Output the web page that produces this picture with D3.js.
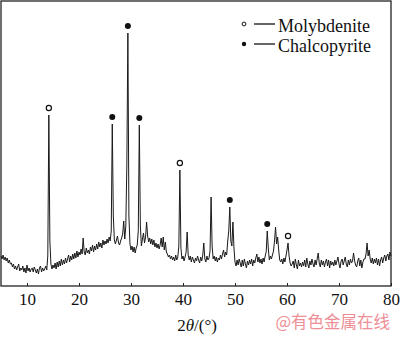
<!DOCTYPE html>
<html>
<head>
<meta charset="utf-8">
<script src="https://cdn.jsdelivr.net/npm/d3@7"></script>
<style>
  html, body { margin: 0; padding: 0; background: #fff; }
  svg { display: block; }
</style>
</head>
<body>
<svg id="chart" width="400" height="337"></svg>
<script>
// XRD pattern, 2θ from 5° to 80° sampled every 0.2°, intensity in a.u.
const angleStart = 5;
const angleStep = 0.2;
const intensity = [
  30, 27, 31, 26, 29, 25, 28, 23, 26, 22,   // 5.0 - 6.8
  23, 19, 22, 17, 20, 16, 19, 22, 15, 18,   // 7.0 - 8.8
  16, 20, 14, 18, 13, 21, 15, 18, 14, 17,   // 9.0 - 10.8
  18, 14, 19, 16, 13, 17, 12, 18, 20, 14,   // 11.0 - 12.8
  18, 15, 17, 20, 16, 30, 171, 45, 22, 17,  // 13.0 - 14.8
  21, 18, 23, 17, 24, 19, 25, 20, 27, 21,   // 15.0 - 16.8
  26, 22, 28, 23, 27, 31, 24, 30, 26, 32,   // 17.0 - 18.8
  27, 33, 28, 35, 29, 34, 31, 37, 32, 48,   // 19.0 - 20.8
  34, 31, 38, 33, 36, 32, 39, 35, 41, 34,   // 21.0 - 22.8
  40, 36, 42, 37, 44, 39, 43, 38, 46, 41,   // 23.0 - 24.8
  45, 42, 47, 43, 49, 45, 55, 162, 70, 46,  // 25.0 - 26.8
  42, 46, 50, 43, 41, 45, 48, 52, 65, 47,   // 27.0 - 28.8
  60, 120, 253, 70, 42, 36, 40, 34, 39, 33, // 29.0 - 30.8
  38, 41, 55, 161, 60, 40, 47, 53, 43, 49,  // 31.0 - 32.8
  64, 50, 44, 48, 42, 47, 41, 46, 39, 43,   // 33.0 - 34.8
  38, 42, 37, 41, 48, 39, 49, 36, 44, 34,   // 35.0 - 36.8
  32, 29, 31, 27, 30, 26, 29, 25, 31, 26,   // 37.0 - 38.8
  29, 40, 116, 38, 27, 30, 25, 29, 34, 54,  // 39.0 - 40.8
  31, 26, 30, 24, 29, 26, 23, 28, 25, 30,   // 41.0 - 42.8
  26, 23, 29, 25, 31, 43, 27, 24, 30, 26,   // 43.0 - 44.8
  28, 35, 89, 40, 27, 30, 25, 29, 24, 28,   // 45.0 - 46.8
  26, 31, 27, 32, 36, 29, 34, 31, 45, 55,   // 47.0 - 48.8
  79, 45, 40, 64, 38, 24, 20, 26, 21, 27,   // 49.0 - 50.8
  23, 19, 26, 20, 27, 22, 18, 25, 21, 26,   // 51.0 - 52.8
  22, 27, 20, 26, 23, 28, 32, 24, 29, 23,   // 53.0 - 54.8
  27, 22, 28, 24, 30, 34, 55, 38, 26, 30,   // 55.0 - 56.8
  27, 31, 35, 45, 59, 42, 49, 36, 26, 24,   // 57.0 - 58.8
  27, 22, 28, 24, 30, 36, 43, 30, 23, 20,   // 59.0 - 60.8
  22, 25, 18, 27, 21, 17, 26, 20, 23, 19,   // 61.0 - 62.8
  24, 20, 26, 19, 28, 22, 18, 25, 21, 27,   // 63.0 - 64.8
  22, 19, 26, 21, 27, 33, 23, 19, 26, 21,   // 65.0 - 66.8
  25, 19, 24, 27, 20, 26, 18, 25, 21, 24,   // 67.0 - 68.8
  20, 26, 21, 25, 29, 22, 18, 25, 27, 21,   // 69.0 - 70.8
  25, 29, 22, 19, 26, 21, 27, 23, 25, 33,   // 71.0 - 72.8
  25, 21, 19, 25, 28, 20, 26, 18, 24, 27,   // 73.0 - 74.8
  27, 32, 43, 30, 36, 27, 23, 28, 22, 27,   // 75.0 - 76.8
  23, 28, 21, 27, 20, 26, 29, 23, 28, 31,   // 77.0 - 78.8
  25, 30, 32, 26, 34, 30                    // 79.0 - 80.0
];

// Indexed reflections (2θ of the marked peaks)
const molybdenitePeaks = [14.2, 39.4, 60.2];
const chalcopyritePeaks = [26.4, 29.4, 31.6, 49.0, 56.2];

const xTicks = [10, 20, 30, 40, 50, 60, 70, 80];
const legendItems = ["Molybdenite", "Chalcopyrite"];
const xTitle = ["2", "θ", "/(°)"];
const watermark = "@有色金属在线";

const serif = "'Liberation Serif', 'DejaVu Serif', serif";

const points = intensity.map((v, i) => ({ t: +(angleStart + i * angleStep).toFixed(1), v }));
const lookup = new Map(points.map(p => [p.t.toFixed(1), p.v]));

const svg = d3.select("#chart");
const plotLeft = 1, plotRight = 391, plotTop = 1, plotBottom = 286;

const x = d3.scaleLinear().domain([5, 80]).range([plotLeft, plotRight]);
const y = d3.scaleLinear().domain([0, 285]).range([plotBottom, plotTop]);

// pattern
const line = d3.line().x(d => x(d.t)).y(d => y(d.v));
svg.append("path")
  .datum(points)
  .attr("d", line)
  .attr("fill", "none")
  .attr("stroke", "#1a1a1a")
  .attr("stroke-width", 1)
  .attr("stroke-linejoin", "round");

// frame
svg.append("rect")
  .attr("x", plotLeft).attr("y", plotTop)
  .attr("width", plotRight - plotLeft).attr("height", plotBottom - plotTop)
  .attr("fill", "none").attr("stroke", "#222").attr("stroke-width", 1.3);

// bottom axis with short inward ticks
const axis = d3.axisBottom(x).tickValues(xTicks).tickSizeInner(-3).tickSizeOuter(0).tickPadding(7);
const gx = svg.append("g").attr("transform", `translate(0,${plotBottom})`).call(axis);
gx.select(".domain").remove();
gx.selectAll(".tick line").attr("stroke", "#222").attr("stroke-width", 1);
gx.selectAll(".tick text")
  .style("font-family", serif)
  .style("font-size", "17px")
  .attr("fill", "#111")
  .attr("dy", "0.71em");

// axis title
const title = svg.append("text")
  .attr("x", 197).attr("y", 331)
  .attr("text-anchor", "middle")
  .attr("fill", "#111")
  .style("font-family", serif)
  .style("font-size", "17px");
title.append("tspan").text(xTitle[0]);
title.append("tspan").style("font-style", "italic").text(xTitle[1]);
title.append("tspan").text(xTitle[2]);

// peak markers
const markerGap = 7;
svg.selectAll("circle.mo")
  .data(molybdenitePeaks)
  .join("circle")
  .attr("class", "mo")
  .attr("cx", d => x(d))
  .attr("cy", d => y(lookup.get(d.toFixed(1))) - markerGap)
  .attr("r", 2.6)
  .attr("fill", "#fff").attr("stroke", "#111").attr("stroke-width", 1.2);

svg.selectAll("circle.cp")
  .data(chalcopyritePeaks)
  .join("circle")
  .attr("class", "cp")
  .attr("cx", d => x(d))
  .attr("cy", d => y(lookup.get(d.toFixed(1))) - markerGap)
  .attr("r", 3)
  .attr("fill", "#111");

// legend
const legend = svg.append("g");
legendItems.forEach((name, i) => {
  const cy = 24 + i * 20;
  legend.append("circle")
    .attr("cx", 244).attr("cy", cy)
    .attr("r", i === 0 ? 1.9 : 2.2)
    .attr("fill", i === 0 ? "#fff" : "#111")
    .attr("stroke", "#111").attr("stroke-width", i === 0 ? 1 : 0);
  legend.append("line")
    .attr("x1", 254).attr("x2", 275).attr("y1", cy).attr("y2", cy)
    .attr("stroke", "#111").attr("stroke-width", 1.3);
  legend.append("text")
    .attr("x", 278).attr("y", cy + 7.5)
    .attr("fill", "#111")
    .style("font-family", serif)
    .style("font-size", "18px")
    .text(name);
});

// watermark
svg.append("text")
  .attr("x", 390).attr("y", 328)
  .attr("text-anchor", "end")
  .style("font-family", "'Noto Sans CJK SC', sans-serif")
  .style("font-size", "16.5px")
  .style("fill", "#ee8e96")
  .text(watermark);
</script>
</body>
</html>
